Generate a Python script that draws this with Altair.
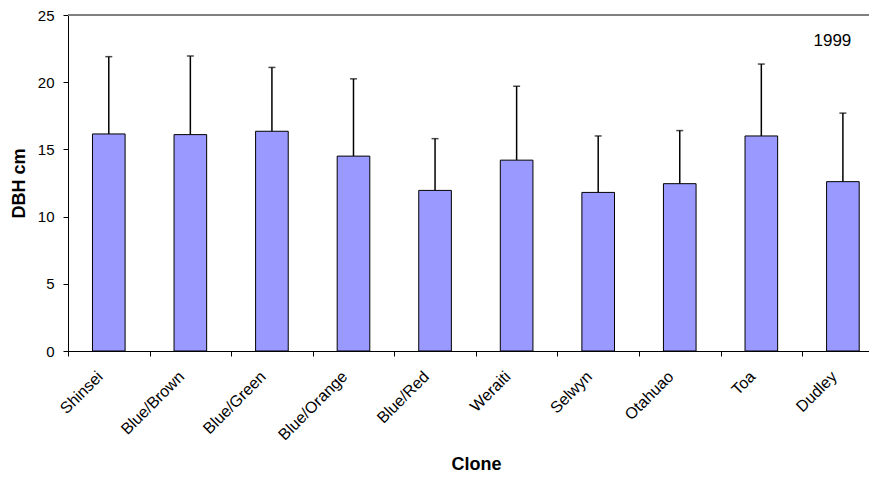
import json
import altair as alt
import pandas as pd

clones = ["Shinsei", "Blue/Brown", "Blue/Green", "Blue/Orange", "Blue/Red",
          "Weraiti", "Selwyn", "Otahuao", "Toa", "Dudley"]
means = [16.15, 16.1, 16.35, 14.5, 11.95, 14.2, 11.8, 12.45, 16.0, 12.6]
sds = [5.75, 5.85, 4.75, 5.75, 3.85, 5.5, 4.2, 3.95, 5.35, 5.1]
y_ticks = [0, 5, 10, 15, 20, 25]
note_text = "1999"
note_clone = "Dudley"
note_y = 23.05

df = pd.DataFrame({"Clone": clones, "DBH": means, "SD": sds})
top = pd.DataFrame({"DBH": [25]})

FONT = "Liberation Sans"
N = len(clones)
X_MAX = 9.82  # the last category runs past the right edge, as in the original
label_expr = json.dumps(clones) + "[datum.value]"


def x_enc(field):
    return alt.X(
        field, title="Clone",
        scale=alt.Scale(domain=[0, X_MAX], nice=False, zero=False),
        axis=alt.Axis(
            values=list(range(N)), labelExpr=label_expr,
            labelAngle=-45, labelAlign="right", labelBaseline="top", labelPadding=12,
            labelOffset=26, labelFlush=False, labelOverlap=False, labelBound=False,
            tickSize=5, tickColor="black", domainColor="black", grid=False,
            labelFont=FONT, labelFontSize=16, labelColor="black",
            titleFont=FONT, titleFontSize=18, titleFontWeight="bold", titleColor="black",
            titleX=408, titleY=113, titleBaseline="middle",
        ),
    )


def y_enc(field):
    return alt.Y(
        field, title="DBH cm",
        scale=alt.Scale(domain=[0, 25], nice=False, zero=True),
        axis=alt.Axis(
            values=y_ticks, tickSize=5, tickColor="black", domainColor="black", grid=False,
            labelFont=FONT, labelFontSize=15, labelColor="black", labelPadding=9,
            titleFont=FONT, titleFontSize=18, titleFontWeight="bold", titleColor="black",
            titleX=-49, titleY=168, titleBaseline="middle", titleAngle=270,
        ),
    )


base = (
    alt.Chart(df)
    .transform_window(idx="row_number()")
    .transform_calculate(
        upper="datum.DBH + datum.SD",
        center="datum.idx - 0.5",
        left="datum.idx - 0.7",
        right="datum.idx - 0.3",
    )
)

border = alt.Chart(top).mark_rule(color="#808080", strokeWidth=2).encode(y=y_enc("DBH:Q"))

bars = base.mark_bar(fill="#9999FF", stroke="black", strokeWidth=1).encode(
    x=x_enc("left:Q"), x2="right:Q", y=y_enc("DBH:Q"), y2=alt.datum(0))
errs = base.mark_rule(color="black", strokeWidth=1.5).encode(
    x=x_enc("center:Q"), y=y_enc("DBH:Q"), y2="upper:Q")
caps = base.mark_tick(color="black", thickness=1.5, size=7, orient="horizontal").encode(
    x=x_enc("center:Q"), y=y_enc("upper:Q"))
label = (
    base.transform_filter(alt.datum.Clone == note_clone)
    .mark_text(font=FONT, fontSize=17, dx=-10.5, color="black", text=note_text)
    .encode(x=x_enc("center:Q"), y=alt.datum(note_y))
)

chart = alt.layer(border, errs, caps, bars, label).properties(
    width=801, height=336,
    autosize=alt.AutoSizeParams(type="none"),
    padding={"left": 60, "top": 7, "right": 0, "bottom": 121},
).configure_view(strokeWidth=0)

chart.save("out.html", embed_options={"renderer": "svg", "actions": False})
